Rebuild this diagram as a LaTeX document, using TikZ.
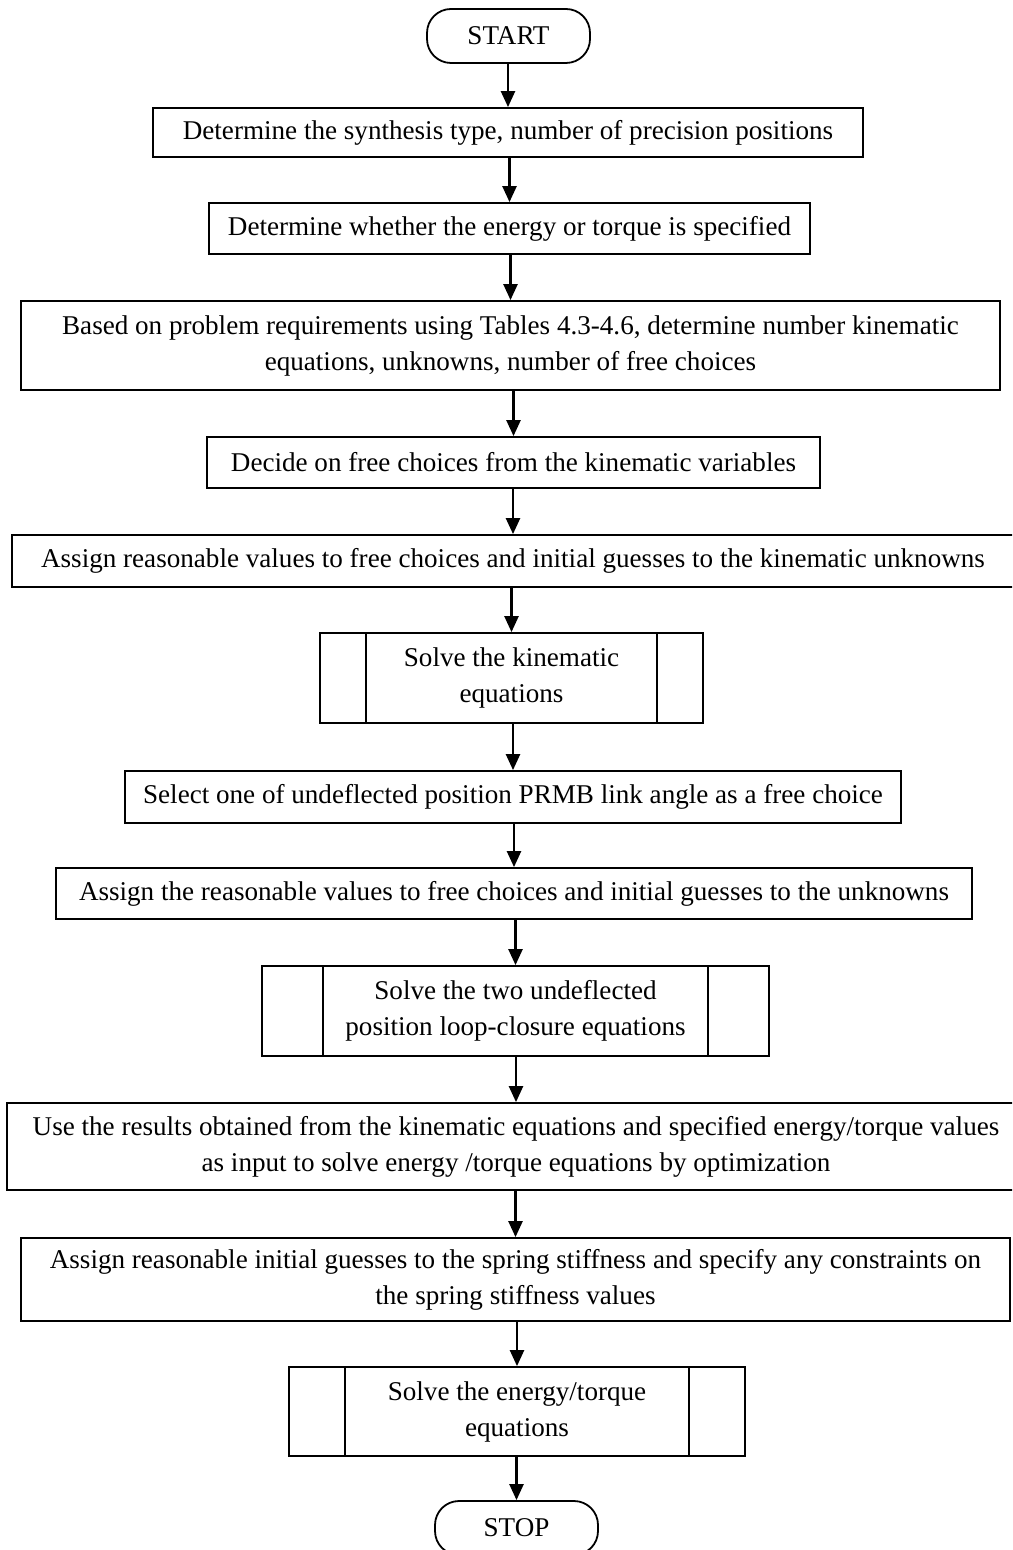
\documentclass[tikz,border=0pt]{standalone}
\usepackage{fontspec}
\setmainfont{Liberation Serif}
\usetikzlibrary{arrows.meta}
\tikzset{
  base/.style={draw, line width=0.9pt, inner sep=0pt, align=center, font=\fontsize{13.55}{18}\selectfont},
  term/.style={base, rounded corners=12pt, minimum width=81.5pt, minimum height=27pt},
  procbox/.style={base, rectangle},
  subproc/.style={base, rectangle, path picture={
     \draw[line width=0.9pt] ([xshift=#1]path picture bounding box.north west) -- ([xshift=#1]path picture bounding box.south west);
     \draw[line width=0.9pt] ([xshift=-#1]path picture bounding box.north east) -- ([xshift=-#1]path picture bounding box.south east);}},
  arr/.style={line width=1.2pt, -{Triangle[width=7pt,length=8pt]}}
}
\begin{document}
\begin{tikzpicture}[x=0.5pt,y=-0.5pt]
\useasboundingbox (0,0) rectangle (1012,1550);
\clip (0,0) rectangle (1012,1550);
\fill[white] (0,0) rectangle (1012,1550);
\node[term] (start) at (508.5,36) {START};
\node[procbox, minimum width=355pt, minimum height=24.5pt] (b1) at (508,132.5) {Determine the synthesis type, number of precision positions};
\node[procbox, minimum width=300.5pt, minimum height=25.5pt] (b2) at (509.5,228.5) {Determine whether the energy or torque is specified};
\node[procbox, minimum width=489.5pt, minimum height=44.5pt] (b3) at (510.5,345.5) {Based on problem requirements using Tables 4.3-4.6, determine number kinematic\\ equations, unknowns, number of free choices};
\node[procbox, minimum width=306.5pt, minimum height=25.5pt] (b4) at (513.5,462.5) {Decide on free choices from the kinematic variables};
\node[procbox, minimum width=501pt, minimum height=26pt] (b5) at (513,561) {Assign reasonable values to free choices and initial guesses to the kinematic unknowns};
\node[subproc=23pt, minimum width=191.5pt, minimum height=45pt] (s1) at (511.5,678) {Solve the kinematic\\ equations};
\node[procbox, minimum width=388pt, minimum height=26pt] (b6) at (513,797) {Select one of undeflected position PRMB link angle as a free choice};
\node[procbox, minimum width=458pt, minimum height=25.5pt] (b7) at (514,893.5) {Assign the reasonable values to free choices and initial guesses to the unknowns};
\node[subproc=30.5pt, minimum width=253.5pt, minimum height=45pt] (s2) at (515.5,1011) {Solve the two undeflected\\ position loop-closure equations};
\node[procbox, minimum width=509pt, minimum height=43.5pt] (b8) at (516,1146.5) {Use the results obtained from the kinematic equations and specified energy/torque values\\ as input to solve energy /torque equations by optimization};
\node[procbox, minimum width=494.5pt, minimum height=41.5pt] (b9) at (515.5,1279.5) {Assign reasonable initial guesses to the spring stiffness and specify any constraints on\\ the spring stiffness values};
\node[subproc=28pt, minimum width=228pt, minimum height=44.5pt] (s3) at (517,1411.5) {Solve the energy/torque\\ equations};
\node[term] (stop) at (516.5,1528) {STOP};
\foreach \a/\b in {start/b1,b1/b2,b2/b3,b3/b4,b4/b5,b5/s1,s1/b6,b6/b7,b7/s2,s2/b8,b8/b9,b9/s3,s3/stop}
  \draw[arr] (\b.north |- \a.south) -- (\b.north);
\end{tikzpicture}
\end{document}
